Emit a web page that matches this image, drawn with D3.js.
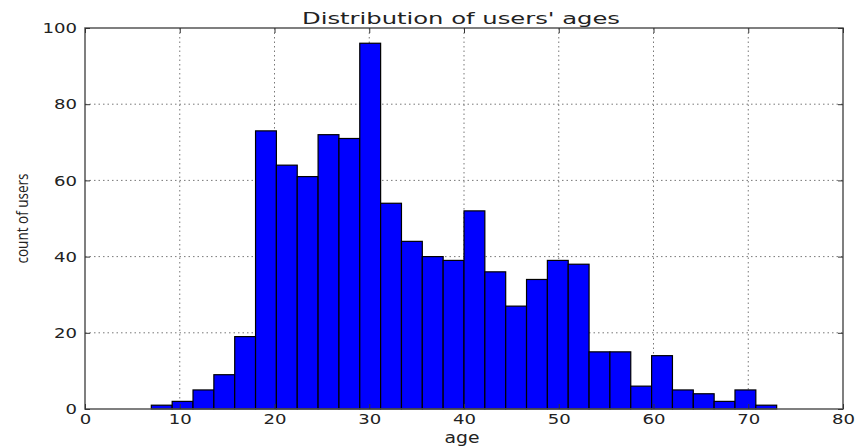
<!DOCTYPE html>
<html>
<head>
<meta charset="utf-8">
<script src="https://cdn.jsdelivr.net/npm/d3@7"></script>
<style>
  body { margin: 0; background: #fff; }
  text { font-family: "DejaVu Sans", sans-serif; fill: #222; }
</style>
</head>
<body>
<svg id="chart" width="855" height="448"></svg>
<script>
// histogram of ages: 30 bins from 7 to 73
const binStart = 7;
const binWidth = 2.2;
const counts = [1, 2, 5, 9, 19, 73, 64, 61, 72, 71, 96, 54, 44, 40, 39, 52, 36, 27, 34, 39, 38, 15, 15, 6, 14, 5, 4, 2, 5, 1];
const xTicks = [0, 10, 20, 30, 40, 50, 60, 70, 80];
const yTicks = [0, 20, 40, 60, 80, 100];

const bins = counts.map((c, i) => ({
  x0: binStart + i * binWidth,
  x1: binStart + (i + 1) * binWidth,
  count: c
}));

const svg = d3.select('#chart');
const plotL = 85, plotR = 843, plotT = 28, plotB = 409;

const x = d3.scaleLinear().domain([0, 80]).range([plotL, plotR]);
const y = d3.scaleLinear().domain([0, 100]).range([plotB, plotT]);

// grid
svg.append('g')
  .selectAll('line')
  .data(xTicks.slice(1, -1))
  .enter()
  .append('line')
  .attr('x1', d => x(d)).attr('x2', d => x(d))
  .attr('y1', plotT).attr('y2', plotB)
  .attr('stroke', '#555')
  .attr('stroke-width', 0.8)
  .attr('stroke-dasharray', '1.5,3');
svg.append('g')
  .selectAll('line')
  .data(yTicks.slice(1, -1))
  .enter()
  .append('line')
  .attr('x1', plotL).attr('x2', plotR)
  .attr('y1', d => y(d)).attr('y2', d => y(d))
  .attr('stroke', '#555')
  .attr('stroke-width', 0.8)
  .attr('stroke-dasharray', '1.5,3');

// bars
svg.append('g')
  .selectAll('rect')
  .data(bins)
  .enter()
  .append('rect')
  .attr('x', d => x(d.x0))
  .attr('width', d => x(d.x1) - x(d.x0))
  .attr('y', d => y(d.count))
  .attr('height', d => y(0) - y(d.count))
  .attr('fill', '#0000ff')
  .attr('stroke', '#000')
  .attr('stroke-width', 1.2);

// frame
svg.append('rect')
  .attr('x', plotL).attr('y', plotT)
  .attr('width', plotR - plotL).attr('height', plotB - plotT)
  .attr('fill', 'none')
  .attr('stroke', '#555')
  .attr('stroke-width', 1.5);

// axes with inward ticks
const bottomAxis = svg.append('g')
  .attr('transform', 'translate(0,' + plotB + ')')
  .call(d3.axisBottom(x).tickValues(xTicks).tickSizeInner(-5).tickSizeOuter(0));
const leftAxis = svg.append('g')
  .attr('transform', 'translate(' + plotL + ',0)')
  .call(d3.axisLeft(y).tickValues(yTicks).tickSizeInner(-5).tickSizeOuter(0).tickPadding(8));
svg.append('g')
  .attr('transform', 'translate(0,' + plotT + ')')
  .call(d3.axisTop(x).tickValues(xTicks).tickSizeInner(-5).tickSizeOuter(0).tickFormat(''));
svg.append('g')
  .attr('transform', 'translate(' + plotR + ',0)')
  .call(d3.axisRight(y).tickValues(yTicks).tickSizeInner(-5).tickSizeOuter(0).tickFormat(''));

svg.selectAll('.domain').remove();
svg.selectAll('.tick line').attr('stroke', '#333');
svg.selectAll('.tick text')
  .style('font-family', '"DejaVu Sans", sans-serif')
  .style('font-size', '14.5px')
  .attr('fill', '#222')
  // the reference type is wide; stretch each label
  .attr('textLength', function () { return this.textContent.length * 11.5; })
  .attr('lengthAdjust', 'spacingAndGlyphs');
bottomAxis.selectAll('.tick text').attr('y', 15).attr('dy', 0);

// titles
svg.append('text')
  .attr('x', (plotL + plotR) / 2 - 3)
  .attr('y', 24)
  .attr('text-anchor', 'middle')
  .attr('textLength', 318)
  .attr('lengthAdjust', 'spacingAndGlyphs')
  .style('font-size', '16px')
  .text("Distribution of users' ages");

svg.append('text')
  .attr('x', (plotL + plotR) / 2 - 2)
  .attr('y', 443)
  .attr('text-anchor', 'middle')
  .attr('textLength', 35)
  .attr('lengthAdjust', 'spacingAndGlyphs')
  .style('font-size', '15px')
  .text('age');

svg.append('text')
  .attr('transform', 'translate(28,' + ((plotT + plotB) / 2) + ') rotate(-90)')
  .attr('text-anchor', 'middle')
  .attr('textLength', 90)
  .attr('lengthAdjust', 'spacingAndGlyphs')
  .style('font-family', '"Open Sans", sans-serif')
  .style('font-size', '17px')
  .text('count of users');
</script>
</body>
</html>
